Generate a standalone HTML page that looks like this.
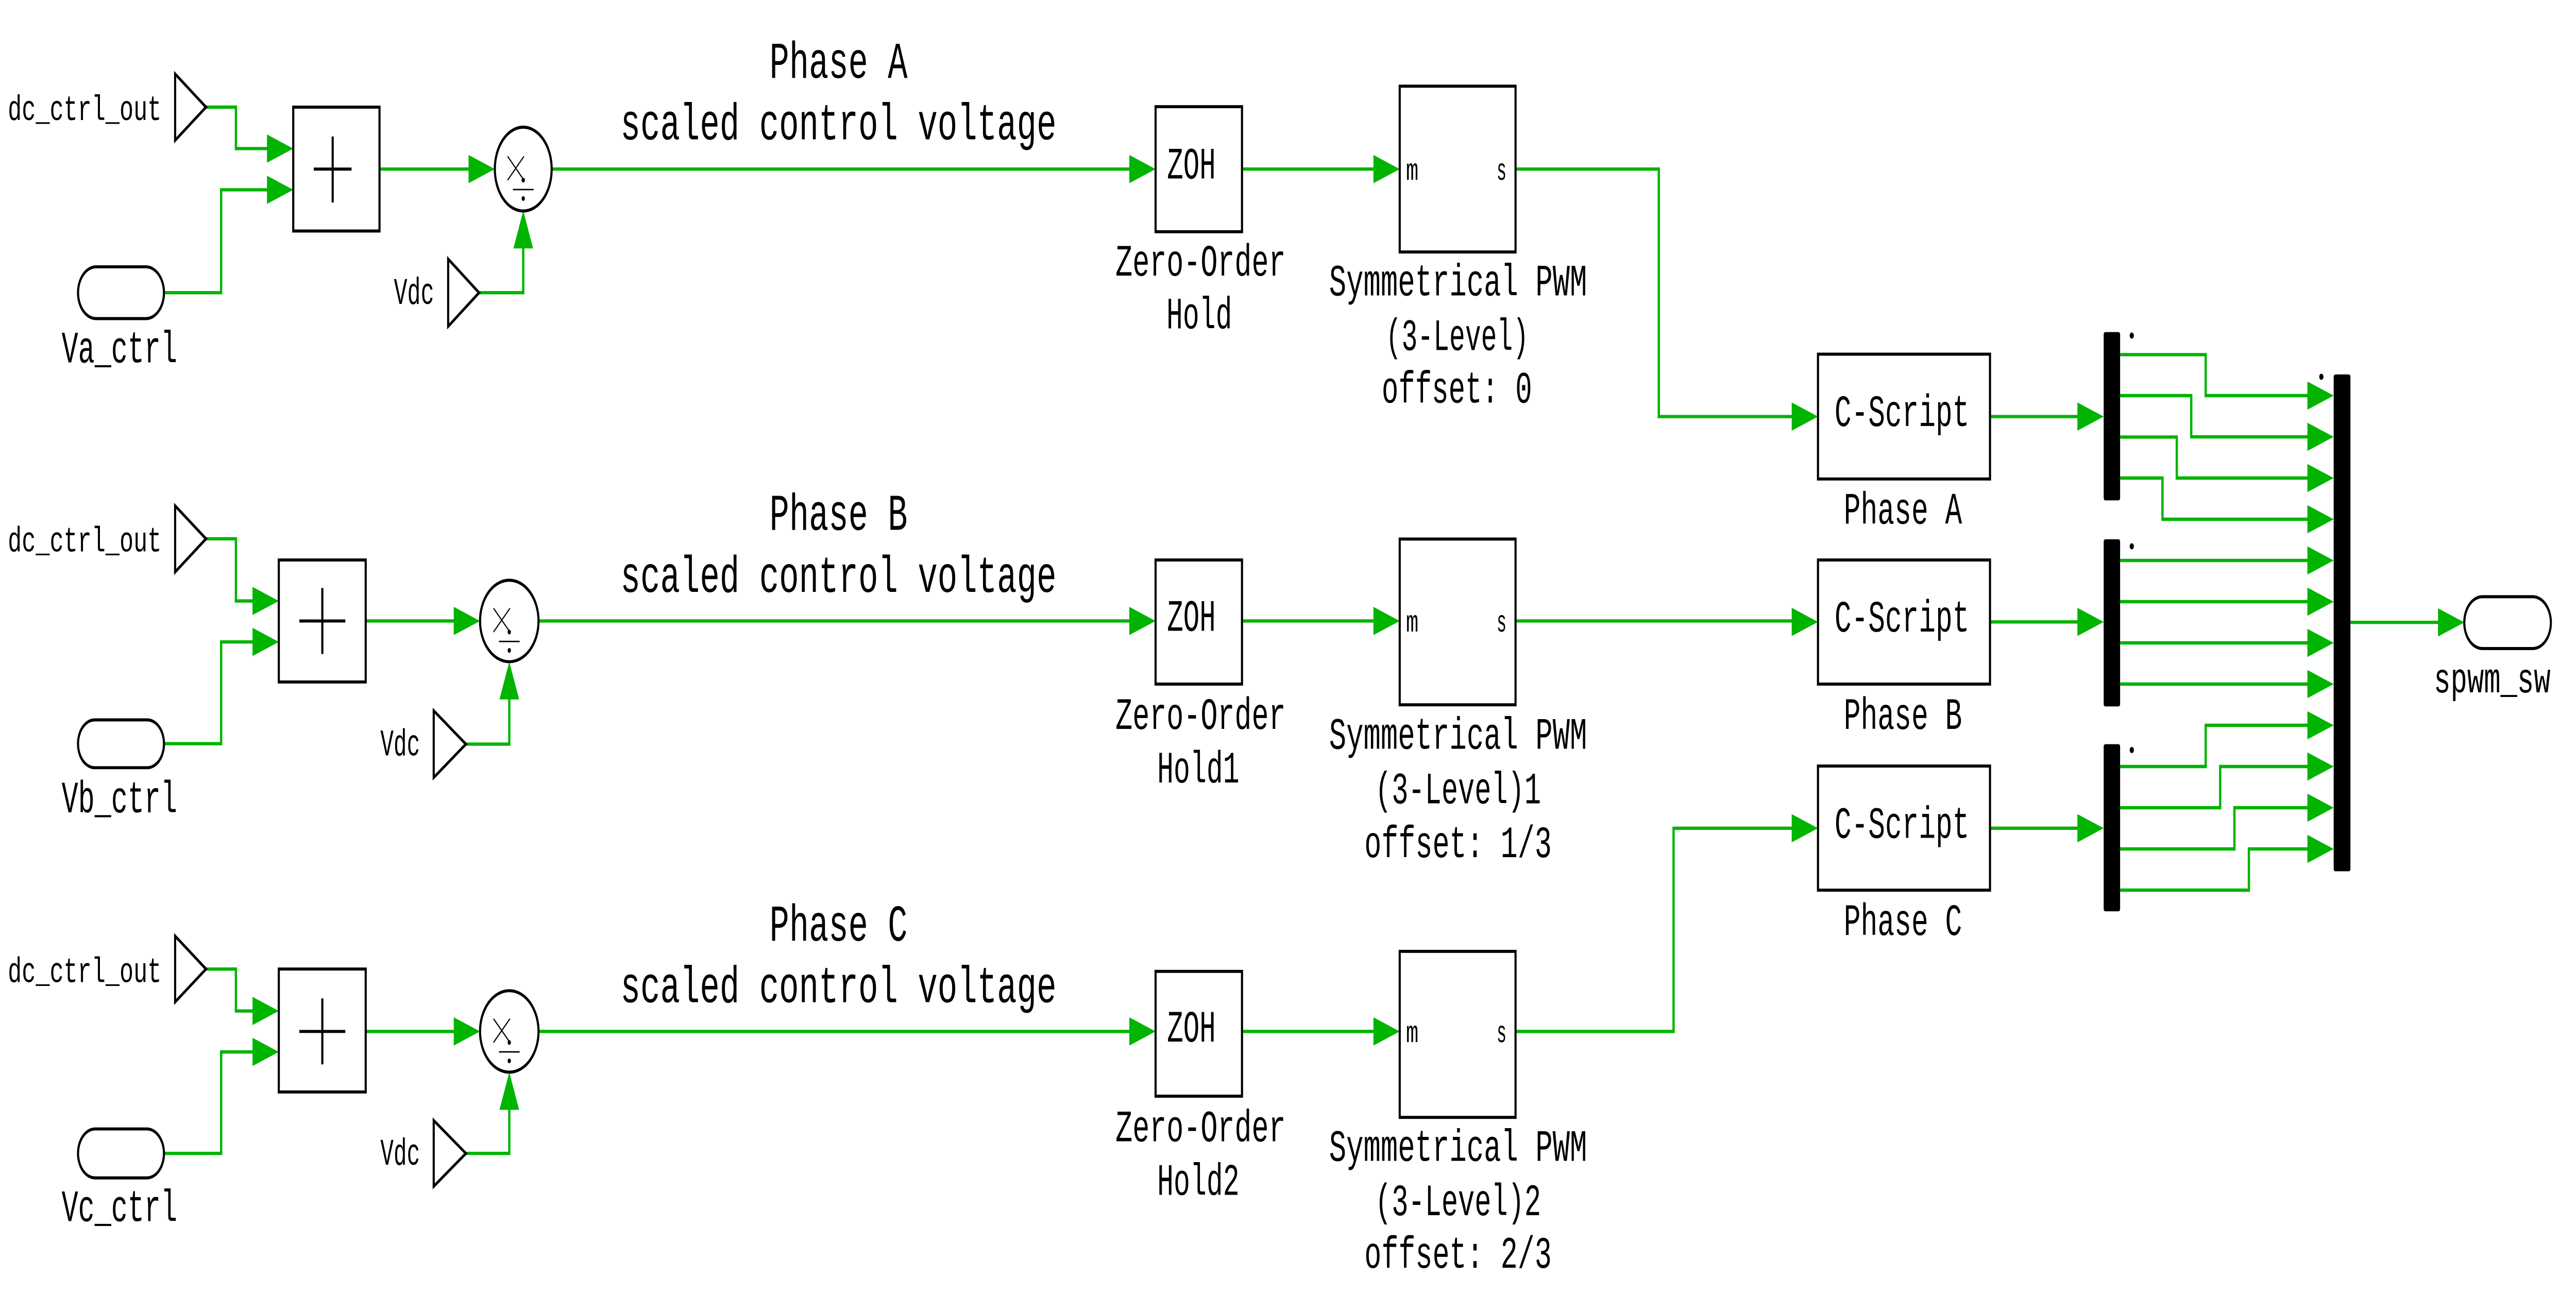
<!DOCTYPE html>
<html><head><meta charset="utf-8"><style>
html,body{margin:0;padding:0;background:#fff;width:100vw;height:100vh;overflow:hidden;}
svg{display:block;width:100vw;height:100vh;}
text{font-family:"Liberation Mono","Noto Sans CJK SC",monospace;fill:#000;}
</style></head><body>
<svg viewBox="0 0 1568 549.5" preserveAspectRatio="none" xmlns="http://www.w3.org/2000/svg">
<rect width="1568" height="549.5" fill="#fff"/>
<g fill="none" stroke="#00b400" stroke-width="1.4">
<polyline points="125.4,45.5 143.6,45.5 143.6,63.1 166,63.1"/>
<polyline points="99.8,124.3 134.6,124.3 134.6,80.6 166,80.6"/>
<polyline points="231,71.8 290,71.8"/>
<polyline points="291.6,124.3 318.5,124.3 318.5,100"/>
<polyline points="336,71.8 692,71.8"/>
<polyline points="756,71.8 840,71.8"/>
<polyline points="922.5,71.8 1009.7,71.8 1009.7,176.9 1095,176.9"/>
<polyline points="1211.3,176.9 1269,176.9"/>
<polyline points="125.4,228.8 143.6,228.8 143.6,255.2 158,255.2"/>
<polyline points="99.8,315.8 134.6,315.8 134.6,272.6 158,272.6"/>
<polyline points="222.6,263.7 281,263.7"/>
<polyline points="283.6,316 310,316 310,292"/>
<polyline points="327.8,263.7 692,263.7"/>
<polyline points="756,263.7 840,263.7"/>
<polyline points="922.5,263.7 1095,263.7"/>
<polyline points="1211.3,264.1 1269,264.1"/>
<polyline points="125.4,411.5 143.6,411.5 143.6,429.3 158,429.3"/>
<polyline points="99.8,489.8 134.6,489.8 134.6,446.7 158,446.7"/>
<polyline points="222.6,438 281,438"/>
<polyline points="283.6,489.8 310,489.8 310,466"/>
<polyline points="327.8,438 692,438"/>
<polyline points="756,438 840,438"/>
<polyline points="922.5,438 1018.7,438 1018.7,351.7 1095,351.7"/>
<polyline points="1211.3,351.7 1269,351.7"/>
<polyline points="1290.5,150.6 1342.6,150.6 1342.6,168 1408,168"/>
<polyline points="1290.5,168 1333.8,168 1333.8,185.5 1408,185.5"/>
<polyline points="1290.5,185.6 1325,185.6 1325,203 1408,203"/>
<polyline points="1290.5,203 1316.3,203 1316.3,220.5 1408,220.5"/>
<polyline points="1290.5,238 1408,238"/>
<polyline points="1290.5,255.5 1408,255.5"/>
<polyline points="1290.5,273 1408,273"/>
<polyline points="1290.5,290.5 1408,290.5"/>
<polyline points="1290.5,325.5 1342.6,325.5 1342.6,308 1408,308"/>
<polyline points="1290.5,343 1351.4,343 1351.4,325.5 1408,325.5"/>
<polyline points="1290.5,360.5 1360.1,360.5 1360.1,343 1408,343"/>
<polyline points="1290.5,378 1368.9,378 1368.9,360.5 1408,360.5"/>
<polyline points="1430.7,264.3 1488,264.3"/>
</g>
<g fill="#00b400">
<polygon points="162.5,57.1 178.5,63.1 162.5,69.1"/><polygon points="162.5,74.6 178.5,80.6 162.5,86.6"/>
<polygon points="285.2,65.8 301.2,71.8 285.2,77.8"/>
<polygon points="312.5,105.5 318.5,89.5 324.5,105.5"/>
<polygon points="687.4,65.8 703.4,71.8 687.4,77.8"/>
<polygon points="836,65.8 852,71.8 836,77.8"/>
<polygon points="1090.6,170.9 1106.6,176.9 1090.6,182.9"/>
<polygon points="1264.5,170.9 1280.5,176.9 1264.5,182.9"/>
<polygon points="153.7,249.2 169.7,255.2 153.7,261.2"/><polygon points="153.7,266.6 169.7,272.6 153.7,278.6"/>
<polygon points="276.2,257.7 292.2,263.7 276.2,269.7"/>
<polygon points="304,297 310,281 316,297"/>
<polygon points="687.4,257.7 703.4,263.7 687.4,269.7"/>
<polygon points="836,257.7 852,263.7 836,269.7"/>
<polygon points="1090.6,258.1 1106.6,264.1 1090.6,270.1"/>
<polygon points="1264.5,258.1 1280.5,264.1 1264.5,270.1"/>
<polygon points="153.7,423.3 169.7,429.3 153.7,435.3"/><polygon points="153.7,440.7 169.7,446.7 153.7,452.7"/>
<polygon points="276.2,432 292.2,438 276.2,444"/>
<polygon points="304,471.3 310,455.3 316,471.3"/>
<polygon points="687.4,432 703.4,438 687.4,444"/>
<polygon points="836,432 852,438 836,444"/>
<polygon points="1090.6,345.7 1106.6,351.7 1090.6,357.7"/>
<polygon points="1264.5,345.7 1280.5,351.7 1264.5,357.7"/>
<polygon points="1404.5,162 1420.5,168 1404.5,174"/>
<polygon points="1404.5,179.5 1420.5,185.5 1404.5,191.5"/>
<polygon points="1404.5,197 1420.5,203 1404.5,209"/>
<polygon points="1404.5,214.5 1420.5,220.5 1404.5,226.5"/>
<polygon points="1404.5,232 1420.5,238 1404.5,244"/>
<polygon points="1404.5,249.5 1420.5,255.5 1404.5,261.5"/>
<polygon points="1404.5,267 1420.5,273 1404.5,279"/>
<polygon points="1404.5,284.5 1420.5,290.5 1404.5,296.5"/>
<polygon points="1404.5,302 1420.5,308 1404.5,314"/>
<polygon points="1404.5,319.5 1420.5,325.5 1404.5,331.5"/>
<polygon points="1404.5,337 1420.5,343 1404.5,349"/>
<polygon points="1404.5,354.5 1420.5,360.5 1404.5,366.5"/>
<polygon points="1484,258.3 1500,264.3 1484,270.3"/>
</g>
<g fill="#fff" stroke="#000" stroke-width="1.3">
<polygon points="106.6,31.4 125.4,45.5 106.6,59.6"/>
<rect x="47.5" y="113.3" width="52.3" height="22" rx="11" ry="11"/>
<rect x="178.5" y="45.5" width="52.5" height="52.6"/>
<ellipse cx="318.5" cy="71.8" rx="17.3" ry="17.8"/>
<polygon points="272.8,110 291.6,124.3 272.8,138.6"/>
<rect x="703.4" y="45.3" width="52.6" height="53.1"/>
<rect x="852" y="36.6" width="70.5" height="70.4"/>
<rect x="1106.6" y="150.4" width="104.7" height="53"/>
<polygon points="106.6,214.8 125.4,228.8 106.6,242.9"/>
<rect x="47.5" y="305.7" width="52.3" height="20.3" rx="10.1" ry="10.1"/>
<rect x="169.7" y="237.8" width="52.9" height="51.8"/>
<ellipse cx="310" cy="263.7" rx="17.8" ry="17.3"/>
<polygon points="264,301.8 283.6,316 264,330.2"/>
<rect x="703.4" y="237.8" width="52.6" height="52.7"/>
<rect x="852" y="228.9" width="70.5" height="70.4"/>
<rect x="1106.6" y="237.8" width="104.7" height="52.7"/>
<polygon points="106.6,397.5 125.4,411.5 106.6,425.5"/>
<rect x="47.5" y="479.4" width="52.3" height="20.8" rx="10.4" ry="10.4"/>
<rect x="169.7" y="411.5" width="52.9" height="52.2"/>
<ellipse cx="310" cy="438" rx="17.8" ry="17.3"/>
<polygon points="264,475.8 283.6,489.8 264,503.8"/>
<rect x="703.4" y="412.5" width="52.6" height="53"/>
<rect x="852" y="404" width="70.5" height="70.5"/>
<rect x="1106.6" y="325.3" width="104.7" height="52.7"/>
<rect x="1500" y="253.4" width="52.7" height="22" rx="11" ry="11"/>
</g>
<g fill="#000">
<rect x="1280.5" y="141" width="10" height="71.5" rx="1"/>
<rect x="1280.5" y="229" width="10" height="71" rx="1"/>
<rect x="1280.5" y="316" width="10" height="71" rx="1"/>
<rect x="1420.5" y="159" width="10.2" height="211" rx="1"/>
<circle cx="1297.6" cy="142.5" r="1.3"/>
<circle cx="1297.6" cy="232" r="1.3"/>
<circle cx="1297.6" cy="318.5" r="1.3"/>
<circle cx="1413" cy="160" r="1.3"/>
</g>
<g stroke="#000" stroke-width="1.3" fill="none">
<path d="M191,71.8 H214 M202.5,58 V86"/>
<path d="M182.2,263.7 H210.2 M196.2,249.7 V277.7"/>
<path d="M182.2,438 H210.2 M196.2,424 V452"/>
</g>
<g stroke="#000" stroke-width="0.6" fill="none">
<path d="M309,66.4 L318.9,76.5 M318.9,66.4 L309,76.5 M312.2,80.5 H324.8"/>
<path d="M300.4,258.3 L310.4,268.4 M310.4,258.3 L300.4,268.4 M303.7,272.4 H316.3"/>
<path d="M300.4,432.6 L310.4,442.7 M310.4,432.6 L300.4,442.7 M303.7,446.7 H316.3"/>
</g>
<g fill="#000">
<circle cx="318.5" cy="76.5" r="1"/><circle cx="318.5" cy="84.3" r="1"/>
<circle cx="310" cy="268.4" r="1"/><circle cx="310" cy="276.2" r="1"/>
<circle cx="310" cy="442.7" r="1"/><circle cx="310" cy="450.5" r="1"/>
</g>
<g text-anchor="middle">
<text x="51.5" y="51" font-size="15" textLength="93.5" lengthAdjust="spacingAndGlyphs">dc_ctrl_out</text>
<text x="72.7" y="153.9" font-size="19" textLength="70.4" lengthAdjust="spacingAndGlyphs">Va_ctrl</text>
<text x="252" y="129.1" font-size="16" textLength="24.5" lengthAdjust="spacingAndGlyphs">Vdc</text>
<text x="510.4" y="33" font-size="22" textLength="84" lengthAdjust="spacingAndGlyphs">Phase A</text>
<text x="510.4" y="59.2" font-size="22" textLength="265.3" lengthAdjust="spacingAndGlyphs">scaled control voltage</text>
<text x="725.2" y="75.8" font-size="19" textLength="29.6" lengthAdjust="spacingAndGlyphs">ZOH</text>
<text x="730.8" y="117" font-size="19" textLength="103.6" lengthAdjust="spacingAndGlyphs">Zero-Order</text>
<text x="730" y="139.5" font-size="19" textLength="40" lengthAdjust="spacingAndGlyphs">Hold</text>
<text x="859.6" y="76.3" font-size="13" textLength="7.6" lengthAdjust="spacingAndGlyphs">m</text>
<text x="914" y="76.3" font-size="13" textLength="6" lengthAdjust="spacingAndGlyphs">s</text>
<text x="887.5" y="125.5" font-size="19" textLength="157" lengthAdjust="spacingAndGlyphs">Symmetrical PWM</text>
<text x="887" y="148.6" font-size="19" textLength="87" lengthAdjust="spacingAndGlyphs">(3-Level)</text>
<text x="886.8" y="171" font-size="19" textLength="91.5" lengthAdjust="spacingAndGlyphs">offset: 0</text>
<text x="1157.7" y="180.9" font-size="19" textLength="82" lengthAdjust="spacingAndGlyphs">C-Script</text>
<text x="1158.3" y="222.4" font-size="19" textLength="72" lengthAdjust="spacingAndGlyphs">Phase A</text>
<text x="51.5" y="234.2" font-size="15" textLength="93.5" lengthAdjust="spacingAndGlyphs">dc_ctrl_out</text>
<text x="72.7" y="345" font-size="19" textLength="70.4" lengthAdjust="spacingAndGlyphs">Vb_ctrl</text>
<text x="243.6" y="320.8" font-size="16" textLength="24.1" lengthAdjust="spacingAndGlyphs">Vdc</text>
<text x="510.4" y="225" font-size="22" textLength="84" lengthAdjust="spacingAndGlyphs">Phase B</text>
<text x="510.4" y="251.3" font-size="22" textLength="265.3" lengthAdjust="spacingAndGlyphs">scaled control voltage</text>
<text x="725.2" y="267.9" font-size="19" textLength="29.6" lengthAdjust="spacingAndGlyphs">ZOH</text>
<text x="730.8" y="309.5" font-size="19" textLength="103.6" lengthAdjust="spacingAndGlyphs">Zero-Order</text>
<text x="729.4" y="332.3" font-size="19" textLength="50" lengthAdjust="spacingAndGlyphs">Hold1</text>
<text x="859.6" y="268.2" font-size="13" textLength="7.6" lengthAdjust="spacingAndGlyphs">m</text>
<text x="914" y="268.2" font-size="13" textLength="6" lengthAdjust="spacingAndGlyphs">s</text>
<text x="887.5" y="317.9" font-size="19" textLength="157" lengthAdjust="spacingAndGlyphs">Symmetrical PWM</text>
<text x="887.5" y="341.1" font-size="19" textLength="101" lengthAdjust="spacingAndGlyphs">(3-Level)1</text>
<text x="887.5" y="364" font-size="19" textLength="114" lengthAdjust="spacingAndGlyphs">offset: 1/3</text>
<text x="1157.7" y="268.2" font-size="19" textLength="82" lengthAdjust="spacingAndGlyphs">C-Script</text>
<text x="1158.3" y="309.5" font-size="19" textLength="72" lengthAdjust="spacingAndGlyphs">Phase B</text>
<text x="51.5" y="417" font-size="15" textLength="93.5" lengthAdjust="spacingAndGlyphs">dc_ctrl_out</text>
<text x="72.7" y="518.5" font-size="19" textLength="70.4" lengthAdjust="spacingAndGlyphs">Vc_ctrl</text>
<text x="243.6" y="494.6" font-size="16" textLength="24.1" lengthAdjust="spacingAndGlyphs">Vdc</text>
<text x="510.4" y="399.4" font-size="22" textLength="84" lengthAdjust="spacingAndGlyphs">Phase C</text>
<text x="510.4" y="425.6" font-size="22" textLength="265.3" lengthAdjust="spacingAndGlyphs">scaled control voltage</text>
<text x="725.2" y="442.3" font-size="19" textLength="29.6" lengthAdjust="spacingAndGlyphs">ZOH</text>
<text x="730.8" y="484.6" font-size="19" textLength="103.6" lengthAdjust="spacingAndGlyphs">Zero-Order</text>
<text x="729.4" y="507.4" font-size="19" textLength="50" lengthAdjust="spacingAndGlyphs">Hold2</text>
<text x="859.6" y="442.5" font-size="13" textLength="7.6" lengthAdjust="spacingAndGlyphs">m</text>
<text x="914" y="442.5" font-size="13" textLength="6" lengthAdjust="spacingAndGlyphs">s</text>
<text x="887.5" y="493" font-size="19" textLength="157" lengthAdjust="spacingAndGlyphs">Symmetrical PWM</text>
<text x="887.5" y="516" font-size="19" textLength="101" lengthAdjust="spacingAndGlyphs">(3-Level)2</text>
<text x="887.5" y="538.4" font-size="19" textLength="114" lengthAdjust="spacingAndGlyphs">offset: 2/3</text>
<text x="1157.7" y="355.8" font-size="19" textLength="82" lengthAdjust="spacingAndGlyphs">C-Script</text>
<text x="1158.3" y="397" font-size="19" textLength="72" lengthAdjust="spacingAndGlyphs">Phase C</text>
<text x="1517" y="294" font-size="18" textLength="71" lengthAdjust="spacingAndGlyphs">spwm_sw</text>
</g>
</svg>
</body></html>
